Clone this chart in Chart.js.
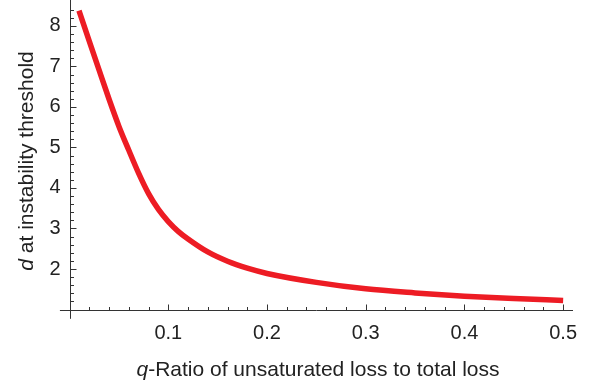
<!DOCTYPE html>
<html>
<head>
<meta charset="utf-8">
<script src="https://cdn.jsdelivr.net/npm/chart.js@4/dist/chart.umd.min.js"></script>
<style>
  html, body { margin: 0; padding: 0; background: #fff; }
  #wrap { width: 590px; height: 382px; }
</style>
</head>
<body>
<div id="wrap"><canvas id="thresholdChart"></canvas></div>
<script>
// q - ratio of unsaturated loss to total loss
const qValues = [0.0095, 0.02, 0.03, 0.04, 0.05, 0.06, 0.07, 0.08, 0.09, 0.10, 0.11,
                 0.12, 0.14, 0.16, 0.18, 0.20, 0.25, 0.30, 0.35, 0.40, 0.45, 0.50];
// d at instability threshold
const dValues = [8.38, 7.62, 6.90, 6.19, 5.52, 4.93, 4.36, 3.86, 3.47, 3.17, 2.93,
                 2.74, 2.42, 2.19, 2.02, 1.89, 1.67, 1.51, 1.41, 1.33, 1.273, 1.225];

const xTicks = [0.1, 0.2, 0.3, 0.4, 0.5];
const yTicks = [2, 3, 4, 5, 6, 7, 8];

const axisColor = '#333';
const fontFamily = '"Liberation Sans", Arial, sans-serif';

// Mathematica-like axes: crossing lines, inward major/minor ticks, mixed italic titles
const mathAxes = {
    id: 'mathAxes',
    beforeDatasetsDraw(chart) {
        const { ctx, scales: { x, y } } = chart;
        const x0 = Math.round(x.getPixelForValue(0)) + 0.5;
        const y0 = Math.round(y.getPixelForValue(1)) + 0.5;
        ctx.save();
        ctx.strokeStyle = axisColor;
        ctx.lineWidth = 1;
        ctx.beginPath();
        ctx.moveTo(x.getPixelForValue(-0.0098), y0);
        ctx.lineTo(x.getPixelForValue(0.51), y0);
        ctx.moveTo(x0, y.getPixelForValue(0.77));
        ctx.lineTo(x0, y.getPixelForValue(8.64));
        // x ticks every 0.02, long at 0.1
        for (let i = 1; i <= 25; i++) {
            const px = Math.round(x.getPixelForValue(i * 0.02)) + 0.5;
            const len = i % 5 === 0 ? 6 : 3.5;
            ctx.moveTo(px, y0);
            ctx.lineTo(px, y0 - len);
        }
        // y ticks every 0.2, long at integers
        for (let i = 1; i <= 37; i++) {
            const py = Math.round(y.getPixelForValue(1 + i * 0.2)) + 0.5;
            const len = i % 5 === 0 ? 6 : 3.5;
            ctx.moveTo(x0, py);
            ctx.lineTo(x0 + len, py);
        }
        ctx.stroke();
        ctx.restore();
    },
    afterDraw(chart) {
        const { ctx } = chart;
        ctx.save();
        ctx.fillStyle = '#222';
        ctx.textBaseline = 'alphabetic';

        // x title
        const xa = 'q', xb = '-Ratio of unsaturated loss to total loss';
        ctx.font = 'italic 21px ' + fontFamily;
        const wa = ctx.measureText(xa).width;
        ctx.font = '21px ' + fontFamily;
        const wb = ctx.measureText(xb).width;
        let sx = 318 - (wa + wb) / 2;
        ctx.font = 'italic 21px ' + fontFamily;
        ctx.fillText(xa, sx, 376);
        ctx.font = '21px ' + fontFamily;
        ctx.fillText(xb, sx + wa, 376);

        // y title
        const ya = 'd', yb = ' at instability threshold';
        ctx.translate(33, 161);
        ctx.rotate(-Math.PI / 2);
        ctx.font = 'italic 21px ' + fontFamily;
        const va = ctx.measureText(ya).width;
        ctx.font = '21px ' + fontFamily;
        const vb = ctx.measureText(yb).width;
        const sy = -(va + vb) / 2;
        ctx.font = 'italic 21px ' + fontFamily;
        ctx.fillText(ya, sy, 0);
        ctx.font = '21px ' + fontFamily;
        ctx.fillText(yb, sy + va, 0);
        ctx.restore();
    }
};

const ctx = document.getElementById('thresholdChart').getContext('2d');
new Chart(ctx, {
    type: 'line',
    data: {
        datasets: [{
            label: 'd',
            data: qValues.map((q, i) => ({ x: q, y: dValues[i] })),
            borderColor: '#ed1c24',
            borderWidth: 5.5,
            borderCapStyle: 'butt',
            pointRadius: 0,
            cubicInterpolationMode: 'monotone',
            fill: false,
            clip: false
        }]
    },
    options: {
        responsive: true,
        maintainAspectRatio: false,
        animation: false,
        layout: { padding: { top: 0, right: 17, bottom: 0, left: 0 } },
        plugins: {
            legend: { display: false },
            tooltip: { enabled: false }
        },
        scales: {
            x: {
                type: 'linear',
                min: 0,
                max: 0.51,
                afterFit(scale) {
                    scale.height = 72.5;
                    scale.paddingLeft = 0;
                    scale.paddingRight = 0;
                },
                afterBuildTicks(scale) { scale.ticks = xTicks.map(v => ({ value: v })); },
                grid: { display: false, drawTicks: false },
                border: { display: false },
                ticks: {
                    autoSkip: false,
                    maxRotation: 0,
                    padding: 12,
                    color: '#222',
                    font: { family: fontFamily, size: 20 },
                    callback: v => v.toFixed(1)
                }
            },
            y: {
                type: 'linear',
                min: 1,
                max: 8.64,
                afterFit(scale) {
                    scale.width = 69.6;
                    scale.paddingTop = 0;
                    scale.paddingBottom = 0;
                },
                afterBuildTicks(scale) { scale.ticks = yTicks.map(v => ({ value: v })); },
                grid: { display: false, drawTicks: false },
                border: { display: false },
                ticks: {
                    autoSkip: false,
                    padding: 9,
                    color: '#222',
                    font: { family: fontFamily, size: 20 },
                    callback: v => String(v)
                }
            }
        }
    },
    plugins: [mathAxes]
});
</script>
</body>
</html>
